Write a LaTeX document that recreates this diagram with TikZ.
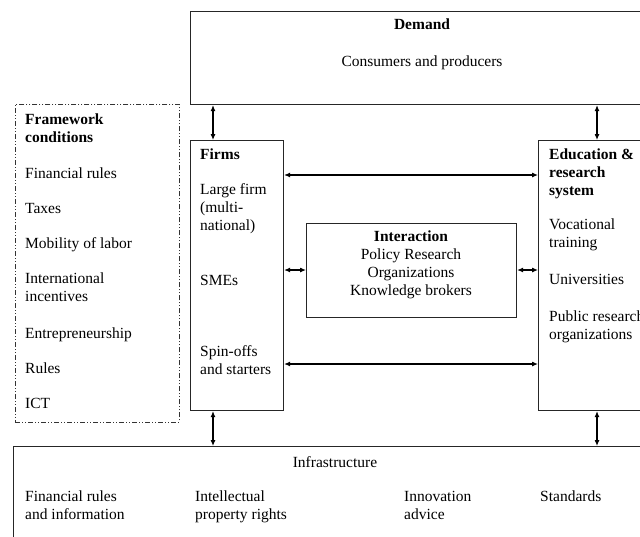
\documentclass[tikz,border=0pt]{standalone}
\usepackage{fontspec}
\setmainfont{Liberation Serif}
\usetikzlibrary{positioning,arrows.meta}

\begin{document}
\begin{tikzpicture}[
        x=1pt, y=-1pt,
        font=\fontsize{15.5}{18}\selectfont,
        box/.style={draw=black!85, line width=1.1pt, inner sep=0pt, anchor=north west},
        frame/.style={draw=black!80, line width=0.9pt, inner sep=0pt, anchor=north west, dash pattern=on 5pt off 2pt on 1pt off 2pt on 1pt off 2pt},
        txt/.style={align=left, anchor=north west, inner sep=0pt},
        ctxt/.style={align=center, anchor=north, inner sep=0pt},
        line/.style={{Latex[length=6pt,width=5pt]}-{Latex[length=6pt,width=5pt]}, line width=1.1pt}
    ]
        \useasboundingbox (0,0) rectangle (640,536);
        \clip (0,0) rectangle (640,536);

        % boxes
        \node[box, minimum width=480pt, minimum height=93pt] (demand) at (190,11) {};
        \node[frame, minimum width=164pt, minimum height=318pt] (framework) at (15,104) {};
        \node[box, minimum width=93pt, minimum height=270pt] (firms) at (190,140) {};
        \node[box, minimum width=130pt, minimum height=270pt] (edu) at (538,140) {};
        \node[box, minimum width=210pt, minimum height=94pt] (inter) at (306,223) {};
        \node[box, minimum width=660pt, minimum height=120pt] (infra) at (13,446) {};

        % texts
        \node[ctxt] (demandtitle) at (422,19) {\textbf{Demand}};
        \node[ctxt] (demandtext) at (422,56) {Consumers and producers};
        \node[txt] (frametext) at (25,114) {\textbf{Framework}\\\textbf{conditions}\\[18pt]
            Financial rules\\[17pt]Taxes\\[17pt]Mobility of labor\\[17pt]International\\incentives\\[19pt]
            Entrepreneurship\\[17pt]Rules\\[17pt]ICT};
        \node[txt] (firmstext) at (200,149) {\textbf{Firms}\\[17pt]Large firm\\(multi-\\national)\\[37pt]
            SMEs\\[53pt]Spin-offs\\and starters};
        \node[txt] (edutext) at (549,149) {\textbf{Education \&}\\\textbf{research}\\\textbf{system}\\[16pt]
            Vocational\\training\\[19pt]Universities\\[19pt]Public research\\organizations};
        \node[ctxt] (intertext) at (411,231) {\textbf{Interaction}\\Policy Research\\Organizations\\Knowledge brokers};
        \node[ctxt] (infratitle) at (335,456) {Infrastructure};
        \node[txt] (infrafin) at (25,491) {Financial rules\\and information};
        \node[txt] (infraip) at (195,491) {Intellectual\\property rights};
        \node[txt] (infraadv) at (404,491) {Innovation\\advice};
        \node[txt] (infrastd) at (540,491) {Standards};

        % arrows
        \coordinate (lx) at (213,0);
        \coordinate (rx) at (597,0);
        \coordinate (ty) at (0,175);
        \coordinate (my) at (0,270);
        \coordinate (by) at (0,364);
        \draw[line] (demand.south -| lx) -- (firms.north -| lx);
        \draw[line] (demand.south -| rx) -- (edu.north -| rx);
        \draw[line] (firms.south -| lx) -- (infra.north -| lx);
        \draw[line] (edu.south -| rx) -- (infra.north -| rx);
        \draw[line] (firms.east |- ty) -- (edu.west |- ty);
        \draw[line] (firms.east |- by) -- (edu.west |- by);
        \draw[line] (firms.east |- my) -- (inter.west |- my);
        \draw[line] (inter.east |- my) -- (edu.west |- my);
    \end{tikzpicture}
\end{document}
